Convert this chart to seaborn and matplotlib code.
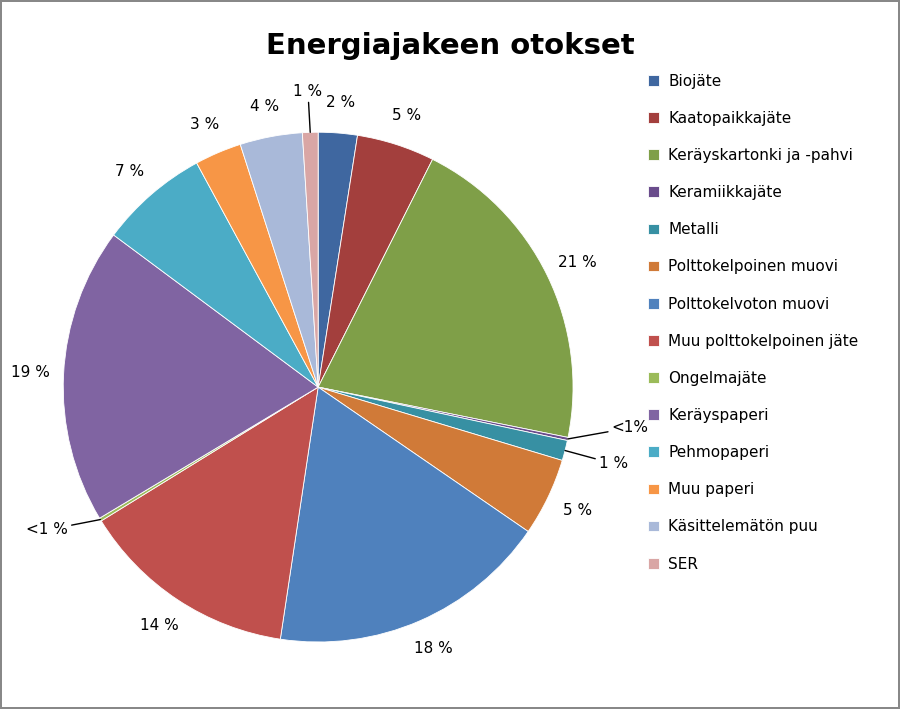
import matplotlib
matplotlib.use("Agg")
import matplotlib.pyplot as plt
import seaborn as sns
import numpy as np

categories = ["Biojäte", "Kaatopaikkajäte", "Keräyskartonki ja -pahvi", "Keramiikkajäte", "Metalli",
              "Polttokelpoinen muovi", "Polttokelvoton muovi", "Muu polttokelpoinen jäte", "Ongelmajäte",
              "Keräyspaperi", "Pehmopaperi", "Muu paperi", "Käsittelemätön puu", "SER"]
values = [2.5, 5, 21, 0.2, 1.3, 5, 18, 14, 0.2, 19, 7, 3, 4, 1]
labels = ["2 %", "5 %", "21 %", "<1%", "1 %", "5 %", "18 %", "14 %", "<1 %", "19 %", "7 %", "3 %", "4 %", "1 %"]
colors = ["#3F67A0", "#A33F3D", "#7F9F48", "#6A4C8C", "#3790A3", "#D07A38", "#4F81BD", "#C0504D",
          "#9BBB59", "#8064A2", "#4BACC6", "#F79646", "#A9B9D9", "#D9A6A5"]

sns.set_theme(style="white")
fig = plt.figure(figsize=(9, 7.09), dpi=100)
fig.patch.set_edgecolor("#888888"); fig.patch.set_linewidth(1.5)
ax = fig.add_axes([0.07, 0.0945, 0.567, 0.719])
wedges, _ = ax.pie(values, colors=colors, startangle=90, counterclock=False,
                   wedgeprops=dict(linewidth=0.6, edgecolor="white"))
ax.set_xlim(-1, 1); ax.set_ylim(-1, 1); ax.set_aspect("equal")

manual = {3: (1.15, -0.16, "left"), 4: (1.10, -0.30, "left"), 8: (-0.98, -0.56, "right"),
          13: (-0.04, 1.13, "center")}
for i, w in enumerate(wedges):
    a = np.deg2rad((w.theta1 + w.theta2) / 2)
    if i in manual:
        tx, ty, ha = manual[i]
        ax.annotate(labels[i], xy=(np.cos(a), np.sin(a)), xytext=(tx, ty), fontsize=11, color="black",
                    ha=ha, va="center" if ha != "center" else "bottom",
                    arrowprops=dict(arrowstyle="-", color="black", lw=1, shrinkA=0, shrinkB=0))
    else:
        ax.text(1.13 * np.cos(a), 1.12 * np.sin(a), labels[i], ha="center", va="center",
                fontsize=11, color="black")

fig.text(0.5, 0.935, "Energiajakeen otokset", ha="center", va="center", fontsize=21,
         fontweight="bold", color="black")
fig.legend(wedges, categories, loc="center left", bbox_to_anchor=(0.705, 0.545), frameon=False,
           fontsize=11, handlelength=0.7, handleheight=0.7, labelspacing=1.45, handletextpad=0.6,
           labelcolor="black")
fig.savefig("out.png", dpi=100, edgecolor=fig.get_edgecolor())
